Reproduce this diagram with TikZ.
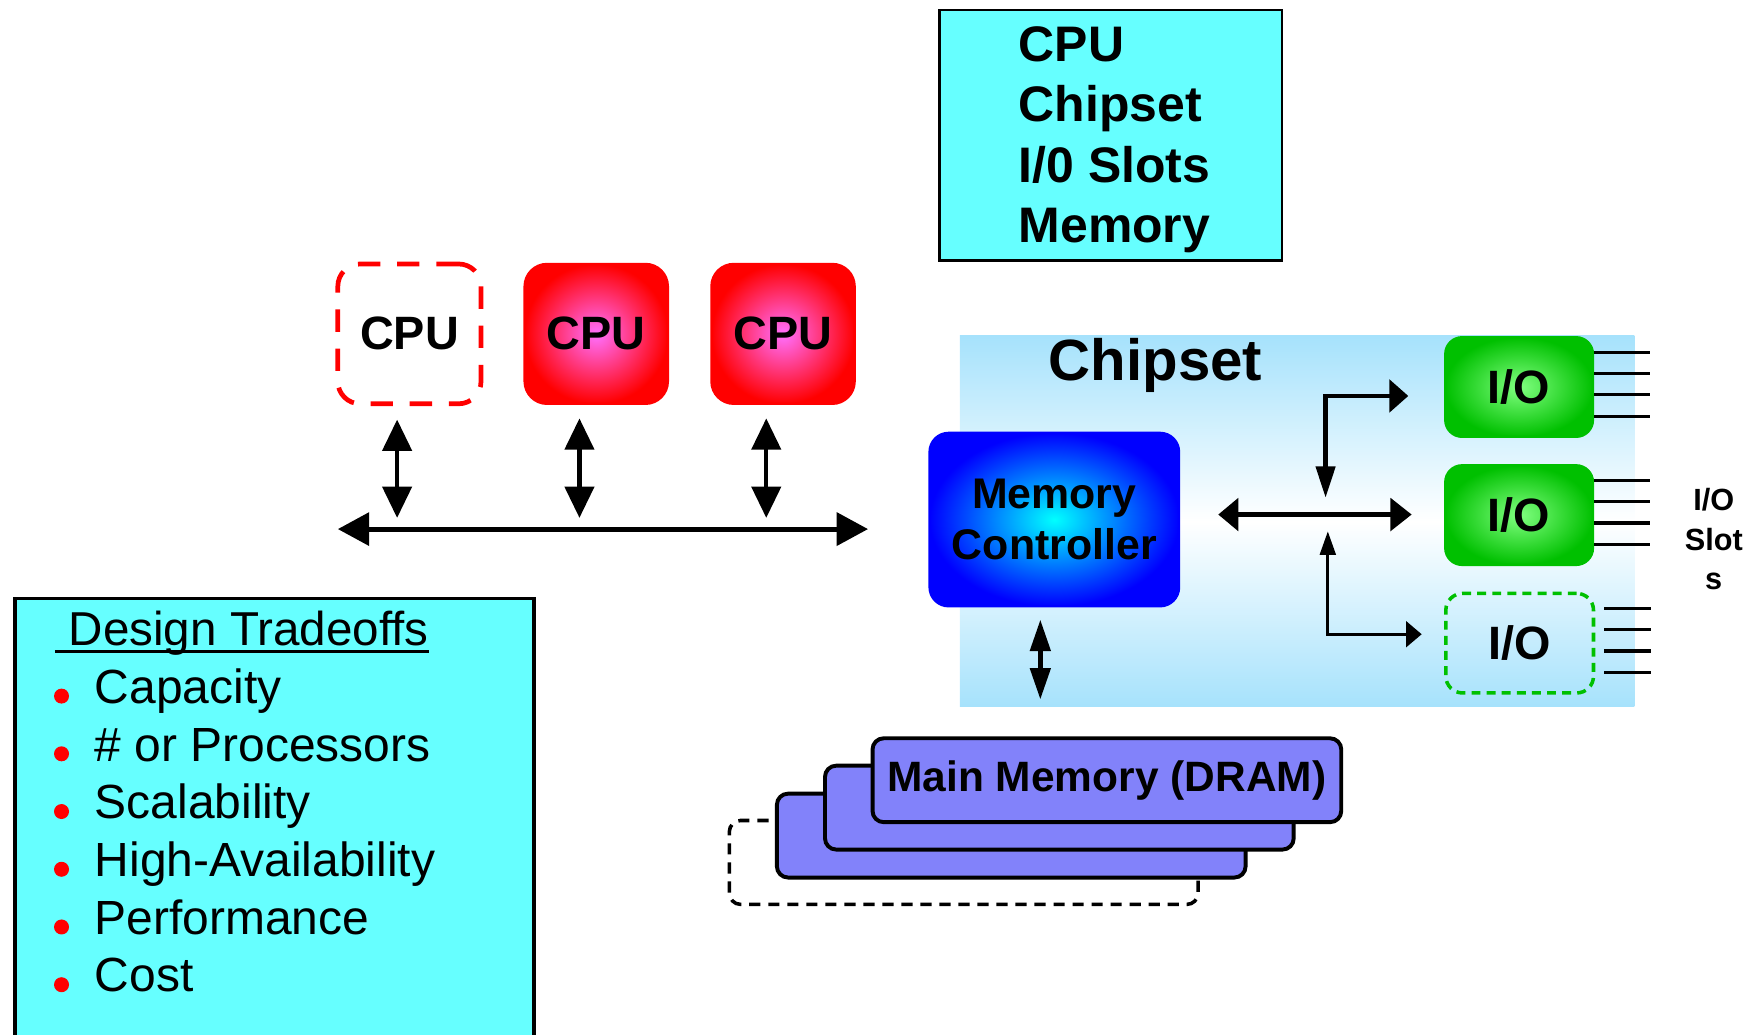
\documentclass[tikz,border=0pt]{standalone}
\usepackage{fontspec}
\setmainfont{Liberation Sans}
\usetikzlibrary{arrows.meta,calc,positioning}
\definecolor{cyanbox}{HTML}{66FFFF}
\definecolor{chipblue}{HTML}{A6E2FC}
\definecolor{cpupink}{HTML}{FF70FF}
\definecolor{iogreen}{HTML}{00C000}
\definecolor{iolight}{HTML}{80FF80}
\definecolor{memfill}{HTML}{8282FA}
\tikzset{
  cpubox/.style={rounded corners=2mm, minimum width=1.28cm, minimum height=1.25cm,
    inner sep=0, font=\fontsize{11.9}{14}\selectfont\bfseries},
  cpufill/.style={draw=red, line width=0.6pt, inner color=cpupink, outer color=red},
  iobox/.style={rounded corners=1.5mm, minimum width=1.32cm, minimum height=0.89cm,
    inner sep=0, font=\fontsize{11.9}{14}\selectfont\bfseries},
  iofill/.style={draw=iogreen, line width=0.6pt, inner color=iolight, outer color=iogreen},
  membox/.style={draw, line width=1pt, rounded corners=1mm, minimum width=4.19cm,
    minimum height=0.75cm, inner sep=0, font=\fontsize{10.8}{13}\selectfont\bfseries},
  slotline/.style={line width=0.8pt},
  busarrow/.style={{Triangle[length=2.8mm,width=2.9mm]}-{Triangle[length=2.8mm,width=2.9mm]}, line width=1.3pt},
  cpuarrow/.style={{Triangle[length=2.8mm,width=2.6mm]}-{Triangle[length=2.8mm,width=2.6mm]}, line width=1.1pt},
  chiparrow/.style={{Triangle[length=1.8mm,width=2.9mm]}-{Triangle[length=1.9mm,width=2.9mm]}, line width=1.1pt},
  elbowtop/.style={{Triangle[length=2.8mm,width=1.7mm]}-{Triangle[length=1.7mm,width=2.9mm]}, line width=1.1pt},
  elbowbot/.style={{Triangle[length=2.1mm,width=1.4mm]}-{Triangle[length=1.4mm,width=2.3mm]}, line width=0.75pt},
  memarrow/.style={{Triangle[length=2.8mm,width=1.8mm]}-{Triangle[length=2.8mm,width=1.8mm]}, line width=1.1pt},
}
\begin{document}
\begin{tikzpicture}
    \useasboundingbox (0,0) rectangle (15.68,9.25);

    % legend at the top
    \node[draw, fill=cyanbox, line width=0.6pt, minimum width=3.06cm, minimum height=2.24cm] (legend) at (9.93,8.04) {};
    \foreach \txt [count=\i] in {CPU, Chipset, I/0 Slots, Memory}
      \node[anchor=base west, inner sep=0, font=\fontsize{12.7}{15}\selectfont\bfseries] (leg\i) at (9.10,{8.70-0.54*(\i-1)}) {\txt};

    % processors and the front side bus
    \node[cpubox, draw=red, line width=1.2pt, dash pattern=on 2mm off 1.5mm] (cpu1) at (3.66,6.265) {CPU};
    \node[cpubox, cpufill] (cpu2) at (5.33,6.265) {CPU};
    \node[cpubox, cpufill] (cpu3) at (7.00,6.265) {CPU};
    \coordinate (busL) at (3.02,4.52);
    \coordinate (busR) at (7.76,4.52);
    \draw[busarrow] (busL) -- (busR);
    \foreach \n/\dx in {cpu1/-0.11, cpu2/-0.15, cpu3/-0.15}
      \draw[cpuarrow] ($(\n.south)+(\dx,-0.12)$) -- ($(\n.south |- busL)+(\dx,0.10)$);

    % chipset
    \node[top color=chipblue, bottom color=chipblue, middle color=white, minimum width=6.03cm, minimum height=3.32cm, inner sep=0] (chipset) at (11.595,4.59) {};
    \node[anchor=base, inner sep=0, font=\fontsize{14.8}{17}\selectfont\bfseries] (chiplabel) at (10.33,5.85) {Chipset};
    \node[rounded corners=1.7mm, draw=blue, line width=0.6pt, inner color=cyan, outer color=blue,
      minimum width=2.23cm, minimum height=1.55cm, align=center, font=\fontsize{10.9}{12.8}\selectfont\bfseries] (mc) at (9.425,4.605) {Memory\\Controller};
    \node[iobox, iofill] (io1) at (13.58,5.79) {I/O};
    \node[iobox, iofill] (io2) at (13.58,4.645) {I/O};
    \node[iobox, draw=iogreen, line width=0.9pt, dash pattern=on 0.8mm off 0.55mm] (io3) at (13.585,3.50) {I/O};
    \foreach \n/\gap in {io1/0, io2/0, io3/0.08}
      \foreach \dy in {0.31,0.12,-0.07,-0.26}
        \draw[slotline] ($(\n.east)+(\gap,\dy)$) -- ($(\n.east)+(0.5,\dy)$);
    \node[align=center, inner sep=0, font=\fontsize{7.8}{10}\selectfont\bfseries] (slots) at (15.32,4.43) {I/O\\Slot\\s};

    % links inside the chipset
    \coordinate (hub) at (11.86,4.65);
    \draw[chiparrow] ($(mc.east |- hub)+(0.34,0)$) -- ($(io2.west |- hub)+(-0.29,0)$);
    \draw[elbowtop] ($(hub)+(-0.01,0.15)$) |- ($(io1.west)+(-0.32,-0.08)$);
    \draw[elbowbot] ($(hub)+(0.01,-0.15)$) |- ($(io3.west)+(-0.20,0.08)$);

    % main memory
    \node[membox, line width=0.9pt, dash pattern=on 1mm off 0.7mm] (mem0) at (8.615,1.54) {};
    \node[membox, fill=memfill] (mem1) at (9.04,1.78) {};
    \node[membox, fill=memfill] (mem2) at (9.47,2.03) {};
    \node[membox, fill=memfill] (mem3) at (9.895,2.275) {Main Memory (DRAM)};
    \draw[memarrow] ($(mc.south)+(-0.125,-0.11)$) -- ($(mc.south |- mem3.north)+(-0.125,0.33)$);

    % design tradeoffs
    \node[draw, fill=cyanbox, line width=0.8pt, anchor=north west, minimum width=4.64cm, minimum height=4.1cm] (tradeoffs) at (0.12,3.91) {};
    \node[anchor=base west, inner sep=0, font=\fontsize{12.1}{14}\selectfont] (title) at (0.49,3.475) {\ Design Tradeoffs};
    \draw[line width=0.6pt] ([yshift=-0.5mm]title.base west) -- ([yshift=-0.5mm]title.base east);
    \foreach \item [count=\i] in {Capacity, \# or Processors, Scalability, High-Availability, Performance, Cost} {
      \node[anchor=base west, inner sep=0, font=\fontsize{12.2}{14}\selectfont] (item\i) at (0.84,{2.962-0.516*(\i-1)}) {\item};
      \fill[red] ($(item\i.base west)+(-0.29,0.065)$) circle (0.067);
    }
\end{tikzpicture}
\end{document}
